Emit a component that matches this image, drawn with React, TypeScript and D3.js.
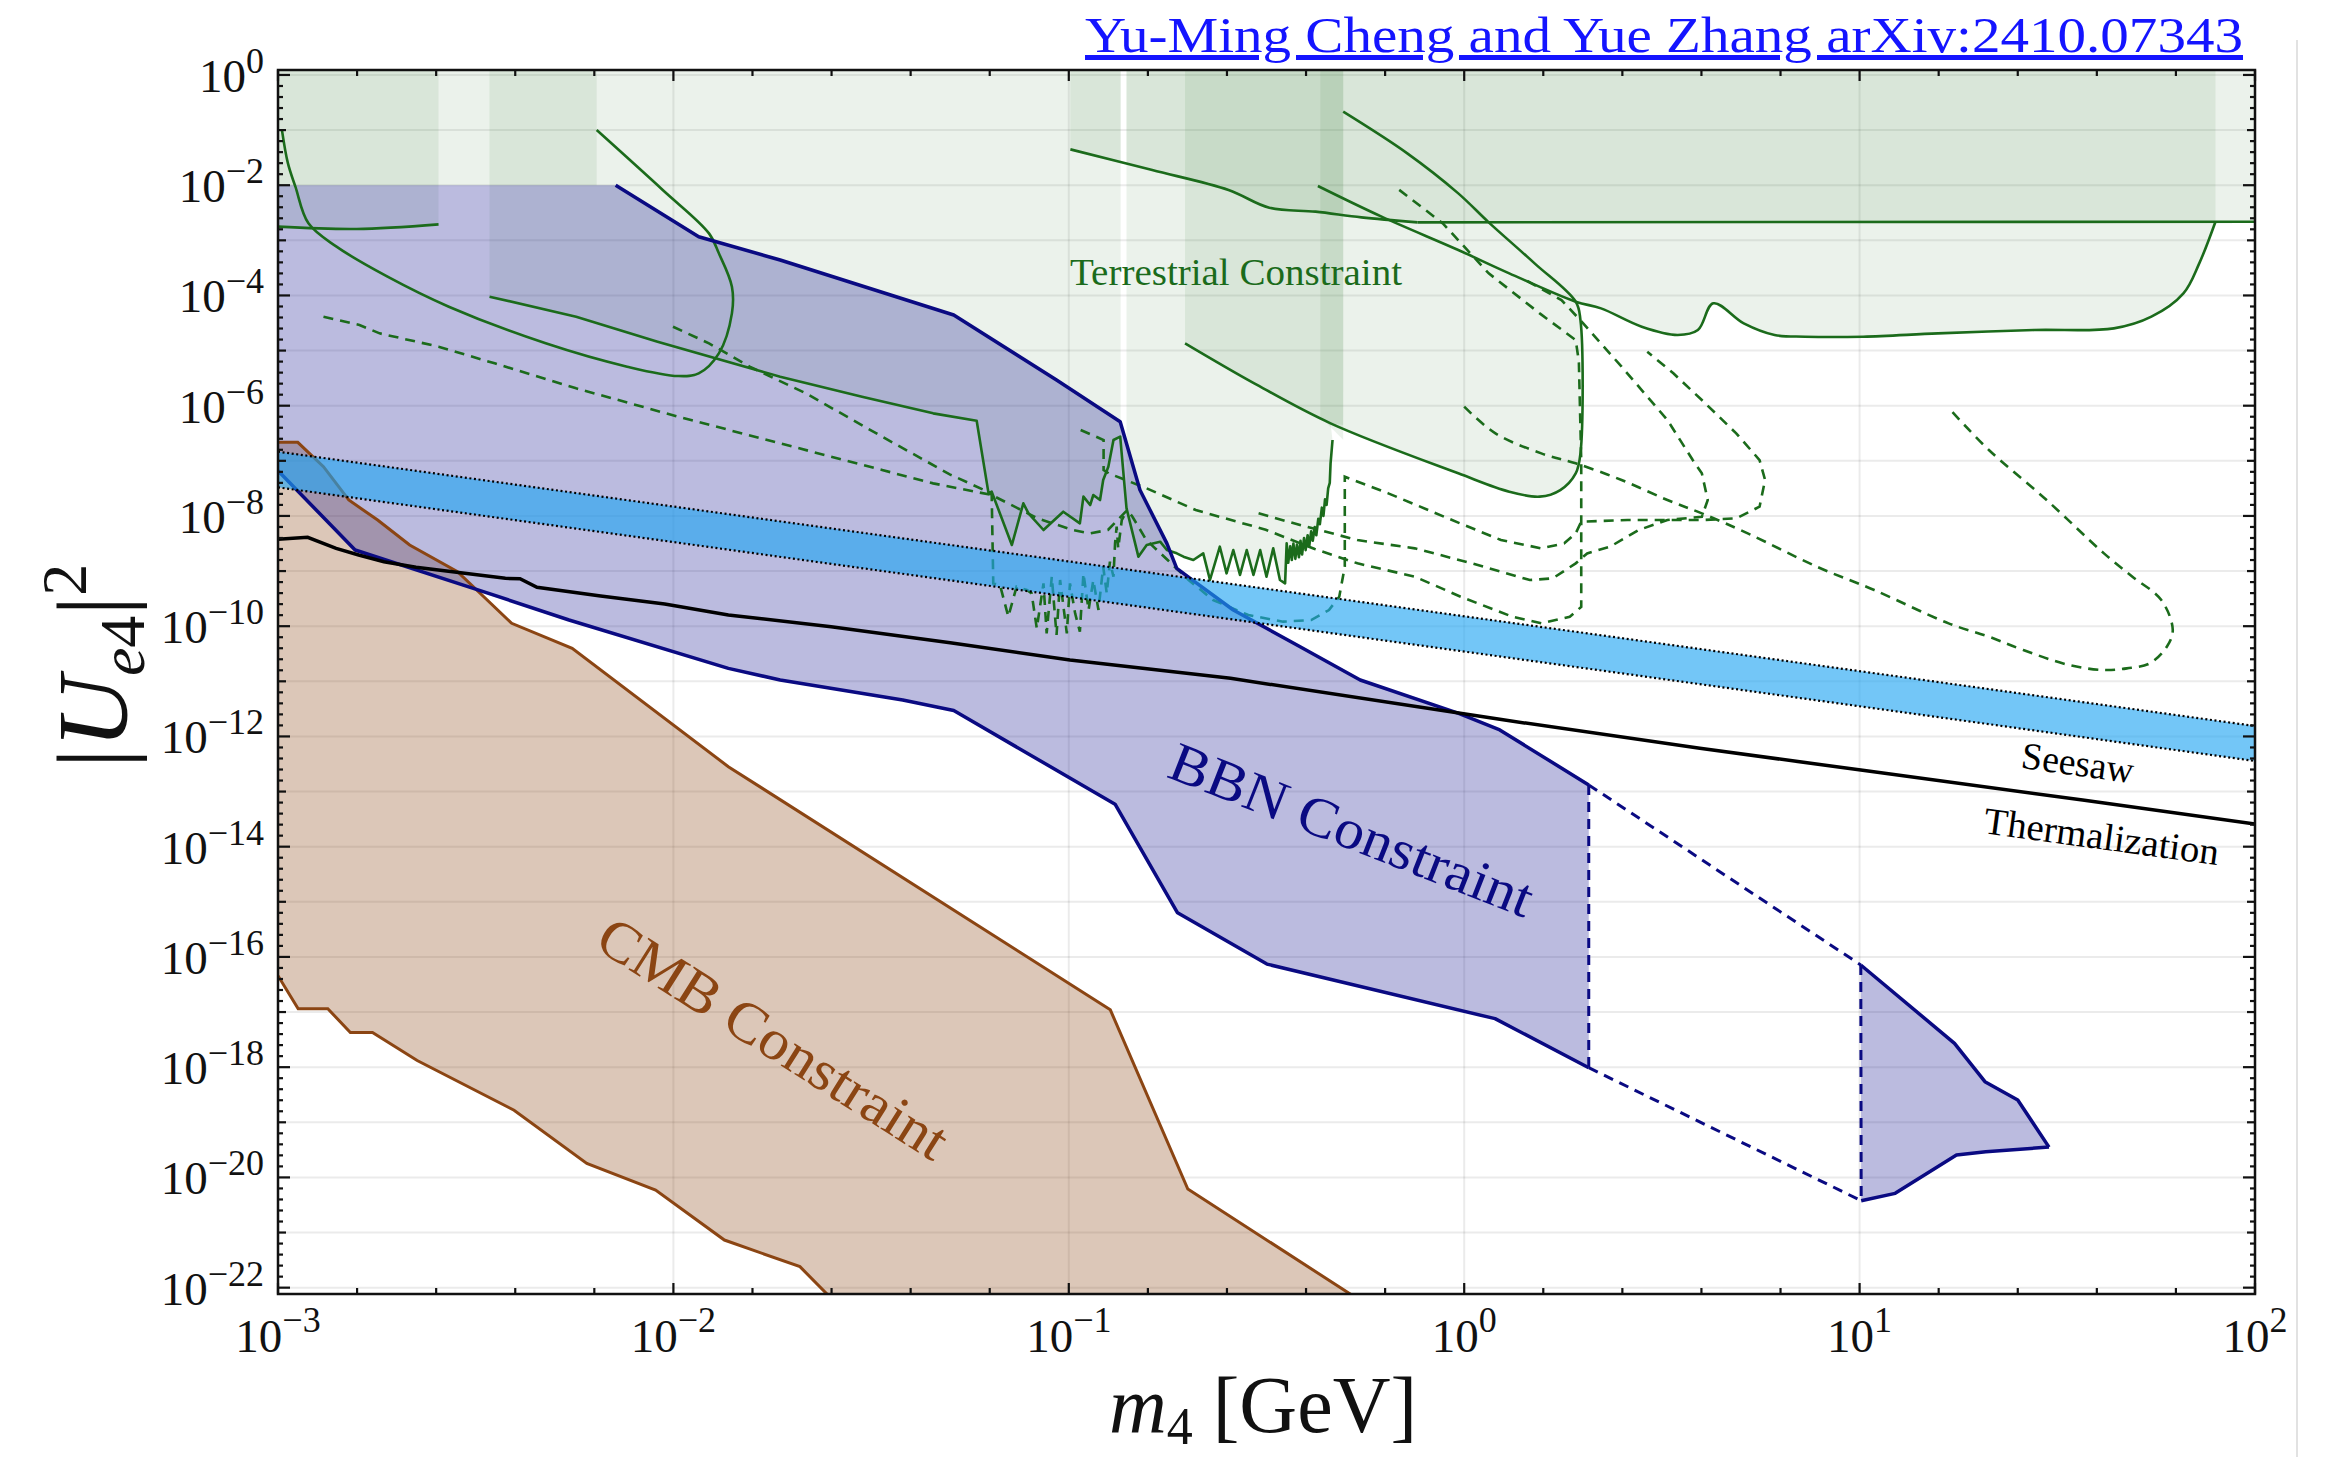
import React from "react";
import * as d3 from "d3";

const WIDTH = 2337;
const HEIGHT = 1457;
const X0 = 278, X1 = 2255, Y0 = 70, Y1 = 1294;

// ---------- axes ----------
const xDomainExp = [-3, 2];
const yDomainExp = [-22.115, 0.09];
const xDecades = [-3, -2, -1, 0, 1, 2];
const yLabelExps = [0, -2, -4, -6, -8, -10, -12, -14, -16, -18, -20, -22];
const yGridExps = d3.range(0, -23, -1);
const xGridExps = [-2, -1, 0, 1];

// ---------- data: [log10(m4/GeV), log10(|U_e4|^2)] ----------
const bbnUpper = [[-3, -2], [-2.146, -2], [-1.936, -2.935], [-1.73, -3.357], [-1.291, -4.355], [-1.031, -5.534], [-0.87, -6.29], [-0.82, -7.53], [-0.752, -8.497], [-0.727, -8.95], [-0.693, -9.132], [-0.584, -9.706], [-0.415, -10.372], [-0.263, -10.976], [-0.014, -11.581], [0.09, -11.883], [0.315, -12.88]];
const bbnLower = [[-3, -7.179], [-2.805, -8.618], [-2.506, -9.313], [-2.264, -9.888], [-1.861, -10.765], [-1.73, -10.976], [-1.42, -11.339], [-1.291, -11.53], [-0.883, -13.23], [-0.725, -15.2], [-0.499, -16.13], [0.078, -17.12], [0.315, -18.01]];
const bbn2Upper = [[1.003, -16.146], [1.24, -17.568], [1.317, -18.263], [1.4, -18.596], [1.479, -19.45]];
const bbn2Lower = [[1.004, -20.422], [1.09, -20.289], [1.245, -19.594], [1.319, -19.533], [1.479, -19.45]];

const cmbUpper = [[-3, -6.665], [-2.95, -6.665], [-2.885, -7.106], [-2.821, -7.711], [-2.748, -8.074], [-2.667, -8.527], [-2.546, -9.011], [-2.409, -9.948], [-2.256, -10.402], [-1.861, -12.549], [-0.895, -16.96], [-0.699, -20.21], [-0.27, -22.2]];
const cmbLower = [[-3, -16.34], [-2.949, -16.94], [-2.874, -16.94], [-2.817, -17.37], [-2.761, -17.37], [-2.648, -17.88], [-2.403, -18.78], [-2.219, -19.745], [-2.045, -20.229], [-1.871, -21.136], [-1.68, -21.619], [-1.6, -22.2]];

const seesawUpper = [[-3, -6.834], [2, -11.811]];
const seesawLower = [[-3, -7.481], [2, -12.446]];

const thermalization = [[-3, -8.424], [-2.925, -8.388], [-2.853, -8.588], [-2.796, -8.709], [-2.732, -8.83], [-2.651, -8.932], [-2.425, -9.132], [-2.388, -9.14], [-2.345, -9.295], [-2.184, -9.452], [-2.022, -9.598], [-1.861, -9.797], [-1.601, -10.009], [-1.3, -10.299], [-0.997, -10.614], [-0.591, -10.946], [0.09, -11.69], [0.596, -12.216], [1.003, -12.609], [1.564, -13.153], [2, -13.589]];

// terrestrial (solid)
const terrS1 = [[-3, -2.752], [-2.801, -2.795], [-2.594, -2.71]];
const terrLoop = [[-2.99, -1.0], [-2.975, -1.6], [-2.956, -2.027], [-2.923, -2.692], [-2.852, -3.115], [-2.723, -3.659], [-2.568, -4.204], [-2.323, -4.869], [-2.117, -5.292], [-1.988, -5.462], [-1.936, -5.413], [-1.885, -5.05], [-1.852, -4.325], [-1.852, -3.841], [-1.885, -3.236], [-1.91, -2.874], [-2.027, -2.087], [-2.194, -1.0]];
const terrS3 = [[-2.465, -4.022], [-2.246, -4.385], [-2.04, -4.839], [-1.73, -5.474], [-1.523, -5.836], [-1.343, -6.139], [-1.233, -6.272]];
const wiggleLeft = [[-1.203, -7.59], [-1.195, -7.56], [-1.144, -8.527], [-1.115, -7.771], [-1.102, -7.953], [-1.064, -8.255], [-1.014, -7.923], [-0.972, -8.134], [-0.963, -7.65], [-0.946, -7.802], [-0.938, -7.62], [-0.921, -7.711], [-0.913, -7.348], [-0.9, -7.106], [-0.887, -6.622], [-0.87, -6.562]];
const wiggleRight = [[-0.854, -7.862], [-0.824, -8.739], [-0.803, -8.527], [-0.769, -8.467], [-0.752, -8.618], [-0.727, -8.678], [-0.71, -8.739], [-0.685, -8.799], [-0.66, -8.678], [-0.643, -9.162], [-0.618, -8.558], [-0.601, -9.041], [-0.584, -8.618], [-0.567, -9.071], [-0.55, -8.618], [-0.533, -9.071], [-0.516, -8.618], [-0.5, -9.102], [-0.483, -8.588], [-0.466, -9.162], [-0.453, -9.223], [-0.449, -8.497], [-0.445, -8.85], [-0.44, -8.55], [-0.436, -8.8], [-0.432, -8.5], [-0.427, -8.78], [-0.423, -8.52], [-0.418, -8.75], [-0.414, -8.45], [-0.41, -8.7], [-0.405, -8.4], [-0.401, -8.62], [-0.396, -8.35], [-0.392, -8.55], [-0.387, -8.28], [-0.383, -8.45], [-0.378, -8.2], [-0.374, -8.35], [-0.369, -8.05], [-0.365, -8.15], [-0.36, -7.85], [-0.356, -8.0], [-0.352, -7.7], [-0.348, -7.8], [-0.344, -7.5], [-0.34, -7.4], [-0.338, -7.05], [-0.333, -6.622]];
const terrS4 = [[-0.996, -1.35], [-0.789, -1.725], [-0.596, -2.087], [-0.493, -2.408], [-0.376, -2.48], [-0.26, -2.583], [-0.118, -2.674], [2, -2.662]];
const terrS5 = [[-0.706, -4.869], [-0.531, -5.595], [-0.338, -6.32], [-0.015, -7.227], [0.114, -7.56], [0.191, -7.65], [0.243, -7.53], [0.282, -7.227], [0.294, -6.864], [0.294, -4.446], [0.282, -4.113], [0.178, -3.418], [0.062, -2.674], [-0.015, -2.148], [-0.144, -1.422], [-0.306, -0.666]];
const terrS6 = [[-0.37, -2.015], [-0.209, -2.571], [-0.015, -3.176], [0.114, -3.599], [0.282, -4.113], [0.346, -4.234], [0.449, -4.566], [0.54, -4.717], [0.591, -4.627], [0.63, -4.143], [0.707, -4.506], [0.785, -4.717], [0.862, -4.748], [1.009, -4.748], [1.198, -4.688], [1.441, -4.627], [1.643, -4.597], [1.738, -4.385], [1.819, -3.962], [1.859, -3.418], [1.9, -2.662]];

// terrestrial (dashed)
const dashA = [[-2.885, -4.385], [-2.794, -4.536], [-2.743, -4.688], [-2.594, -4.929], [-2.452, -5.232], [-2.246, -5.685], [-1.988, -6.199], [-1.73, -6.683], [-1.472, -7.167], [-1.343, -7.409], [-1.195, -7.62], [-1.079, -8.044], [-0.99, -8.255], [-0.946, -8.316], [-0.901, -8.255], [-0.852, -7.893], [-0.839, -8.014], [-0.804, -8.437], [-0.75, -8.8], [-0.697, -9.162], [-0.635, -9.525], [-0.546, -9.797], [-0.458, -9.918], [-0.387, -9.888], [-0.342, -9.707], [-0.316, -9.465], [-0.302, -8.921], [-0.302, -7.288], [-0.192, -7.59], [-0.012, -8.13], [0.093, -8.437], [0.195, -8.588], [0.253, -8.497], [0.282, -8.316], [0.296, -8.104], [0.413, -8.074], [0.514, -8.074], [0.601, -8.074], [0.688, -8.044], [0.747, -7.832], [0.761, -7.348], [0.747, -6.986], [0.688, -6.502], [0.601, -5.897], [0.529, -5.413], [0.463, -5.02]];
const dashB = [[-2.001, -4.567], [-1.91, -4.869], [-1.807, -5.292], [-1.665, -5.776], [-1.472, -6.562], [-1.3, -7.25], [-1.214, -7.53], [-1.195, -7.62], [-1.191, -9.223], [-1.174, -9.253], [-1.153, -9.827], [-1.132, -9.283], [-1.106, -9.344], [-1.094, -9.404], [-1.081, -10.039], [-1.064, -9.223], [-1.056, -10.13], [-1.043, -9.102], [-1.031, -10.16], [-1.022, -9.162], [-1.005, -10.13], [-0.997, -9.223], [-0.984, -9.767], [-0.972, -10.1], [-0.963, -9.041], [-0.95, -9.706], [-0.938, -9.162], [-0.925, -9.706], [-0.913, -8.92], [-0.904, -9.404], [-0.896, -8.83], [-0.887, -9.102], [-0.883, -8.497], [-0.879, -8.195], [-0.875, -8.588], [-0.866, -8.074], [-0.852, -7.893]];
const dashC = [[-0.97, -6.441], [-0.912, -6.622], [-0.912, -7.167], [-0.899, -7.227], [-0.803, -7.5], [-0.679, -7.893], [-0.502, -8.25], [-0.378, -8.6], [-0.27, -8.86], [-0.125, -9.102], [-0.009, -9.465], [0.122, -9.828], [0.195, -9.949], [0.267, -9.828], [0.296, -9.65], [0.296, -7.0], [0.29, -5.2], [0.282, -4.809], [0.191, -4.325], [0.062, -3.599], [-0.054, -2.692], [-0.177, -2.015]];
const dashD = [[-0.52, -7.953], [-0.415, -8.165], [-0.27, -8.437], [-0.125, -8.588], [0.02, -8.86], [0.166, -9.163], [0.224, -9.132], [0.282, -8.86], [0.311, -8.68], [0.369, -8.558], [0.441, -8.256], [0.514, -8.074], [0.601, -8.014], [0.616, -7.711], [0.601, -7.227], [0.578, -6.985], [0.514, -6.26], [0.398, -5.292], [0.301, -4.506], [0.246, -4.083], [0.15, -3.7]];
const dashHook = [[0.0, -6.018], [0.079, -6.502], [0.195, -6.865], [0.282, -7.046], [0.398, -7.348], [0.514, -7.711], [0.601, -7.953], [0.717, -8.316], [0.892, -8.921], [1.037, -9.344], [1.225, -9.949], [1.327, -10.191], [1.414, -10.432], [1.53, -10.705], [1.618, -10.795], [1.676, -10.765], [1.734, -10.674], [1.777, -10.372], [1.792, -10.07], [1.763, -9.525], [1.69, -9.102], [1.618, -8.679], [1.473, -7.711], [1.327, -6.804], [1.226, -6.048]];

// ---------- helpers ----------
const rev = (a) => a.slice().reverse();

export default function App() {
  const x = d3.scaleLog().domain(xDomainExp.map((e) => Math.pow(10, e))).range([X0, X1]);
  const y = d3.scaleLog().domain(yDomainExp.map((e) => Math.pow(10, e))).range([Y1, Y0]);
  const px = (e) => x(Math.pow(10, e));
  const py = (e) => y(Math.pow(10, e));
  const lin = d3.line().x((d) => px(d[0])).y((d) => py(d[1]));
  const smooth = d3.line().curve(d3.curveCatmullRom.alpha(0.5)).x((d) => px(d[0])).y((d) => py(d[1]));
  const poly = (a) => lin(a) + "Z";
  const top = yDomainExp[1];

  // green filled regions (built from the curves)
  const fillMain = [
    [-3, top], [2, top], [2, -2.662], ...rev(terrS6).slice(0, 17),
    [0.294, -4.2], ...terrS5.slice(2, 9).reverse(),
    ...rev(wiggleRight), ...rev(wiggleLeft).slice(0, 1),
    ...rev(bbnUpper.slice(1, 7)), [-3, -2],
  ];
  const fillCol1 = [[-3, top], [-2.594, top], ...rev(terrS1)];
  const fillCol2 = [[-2.465, top], [-2.194, top], [-2.194, -2], ...bbnUpper.slice(1, 7), ...rev(wiggleLeft), ...rev(terrS3)];
  const fillCol3 = [[-0.706, top], [-0.306, top], [-0.306, -6.35], ...rev(terrS5.slice(0, 3))];
  const fillSliver = [[-0.364, top], [-0.306, top], [-0.306, -6.62], [-0.364, -6.2]];
  const fillUpperRight = [[-0.996, top], [1.9, top], [1.9, -2.662], ...rev(terrS4.slice(0, 7))];

  const bbnPoly = [...bbnUpper, ...rev(bbnLower)];
  const bbn2Poly = [...bbn2Upper, ...rev(bbn2Lower)];
  const cmbPoly = [...cmbUpper, [-0.27, -22.6], [-1.6, -22.6], ...rev(cmbLower)];
  const bandPoly = [...seesawUpper, ...rev(seesawLower)];

  const gapL = px(-0.869), gapR = px(-0.854);

  const green = "#1b6b1b";
  const navy = "#0a0a82";
  const brown = "#8b4513";
  const serif = "'Liberation Serif', 'DejaVu Serif', serif";

  const xMinor = d3.range(0, 26).map((k) => ({ e: -3 + k / 5, major: k % 5 === 0 }));
  const yMinor = d3.range(0, 111).map((k) => ({ e: -k / 5, major: k % 10 === 0, mid: k % 5 === 0 }));

  const expLabel = (e) => (e < 0 ? "\u2212" + -e : String(e));

  return (
    <svg width={WIDTH} height={HEIGHT} style={{ position: "absolute", left: 0, top: 0, background: "#fff" }} fontFamily={serif}>
      <defs>
        <clipPath id="plot">
          <rect x={X0} y={Y0} width={X1 - X0} height={Y1 - Y0} />
        </clipPath>
        <clipPath id="gap">
          <rect x={X0} y={Y0} width={gapL - X0} height={Y1 - Y0} />
          <rect x={gapR} y={Y0} width={X1 - gapR} height={Y1 - Y0} />
        </clipPath>
      </defs>
      <rect x={0} y={0} width={WIDTH} height={HEIGHT} fill="#fff" />
      <line x1={2297} y1={40} x2={2297} y2={HEIGHT} stroke="#e2e2e2" strokeWidth={2} />

      {/* title */}
      <text x={2243} y={52} textAnchor="end" fontSize={50} fill="#1414ff" textDecoration="underline" textLength={1158} lengthAdjust="spacingAndGlyphs">
        Yu-Ming Cheng and Yue Zhang arXiv:2410.07343
      </text>

      {/* grid */}
      <g stroke="#000" strokeOpacity={0.08} strokeWidth={2}>
        {yGridExps.map((e) => (
          <line key={"gy" + e} x1={X0} x2={X1} y1={py(e)} y2={py(e)} />
        ))}
        {xGridExps.map((e) => (
          <line key={"gx" + e} x1={px(e)} x2={px(e)} y1={Y0} y2={Y1} />
        ))}
      </g>

      <g clipPath="url(#plot)">
        {/* terrestrial fills */}
        <g clipPath="url(#gap)" fill="rgb(60,125,55)" fillOpacity={0.1}>
          <path d={poly(fillMain)} />
          <path d={poly(fillCol1)} />
          <path d={poly(fillCol2)} />
          <path d={poly(fillCol3)} />
          <path d={poly(fillSliver)} />
          <path d={poly(fillUpperRight)} />
        </g>

        {/* CMB & BBN fills */}
        <path d={poly(cmbPoly)} fill="rgb(139,69,19)" fillOpacity={0.3} />
        <path d={poly(bbnPoly)} fill="rgb(30,30,150)" fillOpacity={0.3} />
        <path d={poly(bbn2Poly)} fill="rgb(30,30,150)" fillOpacity={0.3} />

        {/* terrestrial lines */}
        <g fill="none" stroke={green} strokeWidth={2.6} strokeLinejoin="round">
          <path d={smooth(terrS1)} />
          <path d={smooth(terrLoop)} />
          <path d={lin([...terrS3, ...wiggleLeft, ...wiggleRight])} />
          <path d={smooth(terrS4.slice(0, 7))} />
          <path d={lin(terrS4.slice(6))} />
          <path d={smooth(terrS5)} />
          <path d={smooth(terrS6)} />
        </g>
        <g fill="none" stroke={green} strokeWidth={2.6} strokeDasharray="10,7">
          <path d={lin(dashA)} />
          <path d={lin(dashB)} />
          <path d={lin(dashC)} />
          <path d={lin(dashD)} />
          <path d={smooth(dashHook)} />
        </g>

        {/* CMB outline */}
        <g fill="none" stroke={brown} strokeWidth={3}>
          <path d={lin(cmbUpper)} />
          <path d={lin(cmbLower)} />
        </g>

        {/* BBN outline */}
        <g fill="none" stroke={navy} strokeWidth={3.5} strokeLinejoin="round">
          <path d={lin(bbnUpper.slice(1))} />
          <path d={lin(bbnLower)} />
          <path d={lin(bbn2Upper)} />
          <path d={lin(bbn2Lower)} />
        </g>
        <g fill="none" stroke={navy} strokeWidth={3} strokeDasharray="10,7">
          <path d={lin([bbnUpper[bbnUpper.length - 1], bbnLower[bbnLower.length - 1]])} />
          <path d={lin([bbnUpper[bbnUpper.length - 1], bbn2Upper[0]])} />
          <path d={lin([bbnLower[bbnLower.length - 1], bbn2Lower[0]])} />
          <path d={lin([bbn2Upper[0], bbn2Lower[0]])} />
        </g>

        {/* thermalization */}
        <path d={lin(thermalization)} fill="none" stroke="#000" strokeWidth={3.5} />

        {/* seesaw band */}
        <path d={poly(bandPoly)} fill="rgb(33,165,242)" fillOpacity={0.63} />
        <g fill="none" stroke="#000" strokeWidth={2.2} strokeDasharray="2,2.6">
          <path d={lin(seesawUpper)} />
          <path d={lin(seesawLower)} />
        </g>
      </g>

      {/* region labels */}
      <text x={px(-0.997)} y={py(-3.81)} fontSize={37} fill={green} textLength={332} lengthAdjust="spacingAndGlyphs">
        Terrestrial Constraint
      </text>
      <text transform={`translate(${px(-0.284)},${py(-13.69)}) rotate(21.5)`} textAnchor="middle" dominantBaseline="central" fontSize={56} fill={navy} textLength={386} lengthAdjust="spacingAndGlyphs">
        BBN Constraint
      </text>
      <text transform={`translate(${px(-1.747)},${py(-17.47)}) rotate(32.3)`} textAnchor="middle" dominantBaseline="central" fontSize={57} fill={brown} textLength={403} lengthAdjust="spacingAndGlyphs">
        CMB Constraint
      </text>
      <text transform={`translate(${px(1.552)},${py(-12.475)}) rotate(7.8)`} textAnchor="middle" dominantBaseline="central" fontSize={38} fill="#000" textLength={113} lengthAdjust="spacingAndGlyphs">
        Seesaw
      </text>
      <text transform={`translate(${px(1.612)},${py(-13.81)}) rotate(7.8)`} textAnchor="middle" dominantBaseline="central" fontSize={38} fill="#000" textLength={237} lengthAdjust="spacingAndGlyphs">
        Thermalization
      </text>

      {/* frame */}
      <rect x={X0} y={Y0} width={X1 - X0} height={Y1 - Y0} fill="none" stroke="#111" strokeWidth={2.5} />
      <g stroke="#111" strokeWidth={2.2}>
        {xMinor.map((t, i) => {
          const xx = px(t.e);
          const L = t.major ? 11 : 6;
          return (
            <g key={"xt" + i}>
              <line x1={xx} x2={xx} y1={Y1} y2={Y1 - L} />
              <line x1={xx} x2={xx} y1={Y0} y2={Y0 + L} />
            </g>
          );
        })}
        {yMinor.map((t, i) => {
          const yy = py(t.e);
          const L = t.major ? 12 : t.mid ? 8 : 5;
          return (
            <g key={"yt" + i}>
              <line x1={X0} x2={X0 + L} y1={yy} y2={yy} />
              <line x1={X1} x2={X1 - L} y1={yy} y2={yy} />
            </g>
          );
        })}
      </g>

      {/* tick labels */}
      {yLabelExps.map((e) => (
        <text key={"yl" + e} x={264} y={py(e) + 17} textAnchor="end" fontSize={47} fill="#111">
          10
          <tspan dy={-19} fontSize={36}>{expLabel(e)}</tspan>
        </text>
      ))}
      {xDecades.map((e) => (
        <text key={"xl" + e} x={px(e)} y={1352} textAnchor="middle" fontSize={47} fill="#111">
          10
          <tspan dy={-20} fontSize={36}>{expLabel(e)}</tspan>
        </text>
      ))}

      {/* axis titles */}
      <text x={1263} y={1432} textAnchor="middle" fontSize={80} fill="#111">
        <tspan fontStyle="italic">m</tspan>
        <tspan fontSize={52} dy={12}>4</tspan>
        <tspan dy={-12}> [GeV]</tspan>
      </text>
      <text transform="translate(126,666) rotate(-90)" textAnchor="middle" fontSize={100} fill="#111">
        |<tspan fontStyle="italic">U</tspan>
        <tspan fontSize={64} dy={18} fontStyle="italic">e</tspan>
        <tspan fontSize={64}>4</tspan>
        <tspan dy={-18}>|</tspan>
        <tspan fontSize={64} dy={-40}>2</tspan>
      </text>
    </svg>
  );
}
